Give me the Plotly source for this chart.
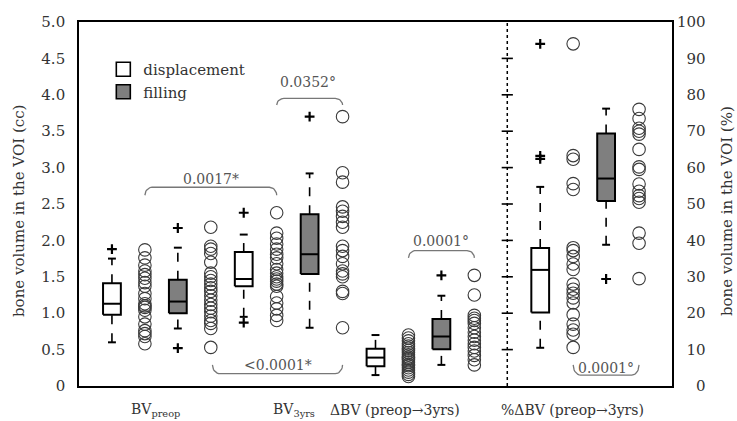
import numpy as np
import plotly.graph_objects as go

# ---------------- data ----------------
group_labels = ["BV<sub>preop</sub>", "BV<sub>3yrs</sub>", "ΔBV (preop→3yrs)", "%ΔBV (preop→3yrs)"]
group_label_x = [2.31, 6.53, 9.59, 14.97]

series_kind = ["displacement", "filling", "displacement", "filling",
               "displacement", "filling", "displacement", "filling"]
box_pos = [1, 3, 5, 7, 9, 11, 14, 16]
pts_pos = [2, 4, 6, 8, 10, 12, 15, 17]
series_axis = ["y", "y", "y", "y", "y", "y", "y2", "y2"]

box_lw = [0.60, 0.79, 0.95, 0.80, 0.15, 0.29, 10.5, 38.8]
box_q1 = [0.98, 1.00, 1.37, 1.54, 0.27, 0.505, 20.2, 50.8]
box_med = [1.13, 1.16, 1.47, 1.81, 0.39, 0.68, 31.9, 57.0]
box_q3 = [1.41, 1.46, 1.84, 2.36, 0.51, 0.92, 37.9, 69.4]
box_uw = [1.75, 1.90, 2.08, 2.92, 0.70, 1.24, 54.7, 76.2]
box_out = [[1.88], [2.17, 0.52], [2.38, 0.87], [3.70], [], [1.52], [94.0, 63.2, 62.4], [29.4]]

pts_bvpre_disp = [1.87, 1.76, 1.66, 1.58, 1.53, 1.48, 1.42, 1.37, 1.27, 1.20,
                  1.13, 1.10, 1.08, 1.04, 0.95, 0.85, 0.76, 0.72, 0.68, 0.58]
pts_bvpre_fill = [2.18, 1.92, 1.88, 1.82, 1.70, 1.55, 1.50, 1.45, 1.40, 1.35, 1.30,
                  1.24, 1.18, 1.12, 1.07, 1.02, 0.96, 0.90, 0.86, 0.79, 0.53]
pts_bv3_disp = [2.38, 2.10, 2.03, 1.95, 1.88, 1.81, 1.76, 1.68, 1.60, 1.55,
                1.50, 1.47, 1.44, 1.40, 1.37, 1.23, 1.14, 1.06, 0.97, 0.90]
pts_bv3_fill = [3.70, 2.93, 2.80, 2.46, 2.40, 2.33, 2.25, 2.18, 1.92, 1.86,
                1.78, 1.68, 1.58, 1.54, 1.50, 1.30, 1.27, 0.80]
pts_dbv_disp = [0.70, 0.66, 0.62, 0.58, 0.55, 0.52, 0.49, 0.46, 0.43, 0.40,
                0.38, 0.36, 0.33, 0.30, 0.28, 0.25, 0.22, 0.19, 0.16, 0.13]
pts_dbv_fill = [1.52, 1.25, 0.97, 0.93, 0.90, 0.86, 0.80, 0.74, 0.68, 0.63,
                0.58, 0.53, 0.48, 0.42, 0.36, 0.29]
pts_pdbv_disp = [94.0, 63.3, 62.3, 55.6, 54.0, 38.0, 37.2, 35.6, 33.5, 32.0,
                 28.0, 26.6, 25.5, 24.2, 22.8, 19.6, 17.0, 15.4, 14.2, 10.6]
pts_pdbv_fill = [76.0, 73.5, 70.8, 70.0, 69.2, 65.0, 60.2, 59.5, 55.5, 53.5,
                 52.3, 51.5, 50.5, 42.0, 39.2, 29.5]
pts_all = [pts_bvpre_disp, pts_bvpre_fill, pts_bv3_disp, pts_bv3_fill,
           pts_dbv_disp, pts_dbv_fill, pts_pdbv_disp, pts_pdbv_fill]

# significance brackets
br_text = ["0.0017*", "0.0352°", "<0.0001*", "0.0001°", "0.0001°"]
br_x0 = [2, 6, 4.05, 10, 15]
br_x1 = [6, 8, 8, 12, 17]
br_bar = [2.73, 3.95, 0.17, 1.86, 3.0]
br_end = [2.62, 3.86, 0.29, 1.76, 5.8]
br_text_x = [4.0, 6.95, 6.05, 11.0, 16.0]
br_text_y = [2.85, 4.17, 0.29, 1.99, 4.9]
br_axis = ["y", "y", "y", "y", "y2"]

y_ticks = [0, 0.5, 1.0, 1.5, 2.0, 2.5, 3.0, 3.5, 4.0, 4.5, 5.0]
y_ticktext = ["0", "0.5", "1.0", "1.5", "2.0", "2.5", "3.0", "3.5", "4.0", "4.5", "5.0"]
y2_ticks = [0, 10, 20, 30, 40, 50, 60, 70, 80, 90, 100]
divider_x = 13
divider_tick_vals = [10, 20, 30, 40, 50, 60, 70, 80, 90]

# ---------------- style ----------------
FONT = "DejaVu Serif"
TXT = "#333333"
fill_color = {"displacement": "white", "filling": "#7f7f7f"}
BW = 0.27   # half box width (x units)
CW = 0.12   # half cap width

fig = go.Figure()

for i in range(len(box_pos)):
    c = box_pos[i]
    ax = series_axis[i]
    fig.add_trace(go.Scatter(
        x=[c, c, None, c, c], y=[box_q3[i], box_uw[i], None, box_lw[i], box_q1[i]],
        mode="lines", line=dict(color="black", width=1.6, dash="dash"),
        yaxis=ax, showlegend=False, hoverinfo="skip"))
    fig.add_trace(go.Scatter(
        x=[c - CW, c + CW, None, c - CW, c + CW],
        y=[box_uw[i], box_uw[i], None, box_lw[i], box_lw[i]],
        mode="lines", line=dict(color="black", width=2),
        yaxis=ax, showlegend=False, hoverinfo="skip"))
    fig.add_trace(go.Scatter(
        x=[c - BW, c + BW, c + BW, c - BW, c - BW],
        y=[box_q1[i], box_q1[i], box_q3[i], box_q3[i], box_q1[i]],
        mode="lines", fill="toself", fillcolor=fill_color[series_kind[i]],
        line=dict(color="black", width=2),
        yaxis=ax, showlegend=False, hoverinfo="skip"))
    fig.add_trace(go.Scatter(
        x=[c - BW, c + BW], y=[box_med[i], box_med[i]],
        mode="lines", line=dict(color="black", width=2),
        yaxis=ax, showlegend=False, hoverinfo="skip"))
    if box_out[i]:
        fig.add_trace(go.Scatter(
            x=[c] * len(box_out[i]), y=box_out[i], mode="markers",
            marker=dict(symbol="cross-thin", size=7, line=dict(color="black", width=2.2)),
            yaxis=ax, showlegend=False, hoverinfo="skip"))
    fig.add_trace(go.Scatter(
        x=[pts_pos[i]] * len(pts_all[i]), y=pts_all[i], mode="markers",
        marker=dict(symbol="circle-open", size=12.5, color="#3a3a3a", line=dict(width=1.1)),
        yaxis=ax, showlegend=False, hoverinfo="skip"))

# dotted divider with ticks
fig.add_trace(go.Scatter(
    x=[divider_x, divider_x], y=[0, 100], mode="lines",
    line=dict(color="black", width=1.5, dash="dot"),
    yaxis="y2", showlegend=False, hoverinfo="skip"))
fig.add_trace(go.Scatter(
    x=[divider_x] * len(divider_tick_vals), y=divider_tick_vals, mode="markers",
    marker=dict(symbol="line-ew", size=8, line=dict(color="black", width=1.6)),
    yaxis="y2", showlegend=False, hoverinfo="skip"))

# brackets
t = np.linspace(0, np.pi / 2, 10)
R = 0.22
for k in range(len(br_text)):
    x0, x1, yb, ye = br_x0[k], br_x1[k], br_bar[k], br_end[k]
    lx = list(x0 + R * (1 - np.cos(t)))
    ly = list(ye + (yb - ye) * np.sin(t))
    rx = list(x1 - R * (1 - np.cos(t[::-1])))
    ry = list(ye + (yb - ye) * np.sin(t[::-1]))
    fig.add_trace(go.Scatter(
        x=lx + rx, y=ly + ry, mode="lines",
        line=dict(color="#777777", width=1.3),
        yaxis=br_axis[k], showlegend=False, hoverinfo="skip"))
    fig.add_annotation(
        x=br_text_x[k], y=br_text_y[k], xref="x", yref=br_axis[k],
        text=br_text[k], showarrow=False, xanchor="center", yanchor="middle",
        font=dict(family=FONT, size=14, color="#555555"))

# legend entries
for kind in ["displacement", "filling"]:
    fig.add_trace(go.Scatter(
        x=[None], y=[None], mode="markers", name=kind,
        marker=dict(symbol="square", size=14, color=fill_color[kind],
                    line=dict(color="black", width=1.6))))

# group labels
for lab, gx in zip(group_labels, group_label_x):
    fig.add_annotation(x=gx, y=-0.066, xref="x", yref="paper", text=lab,
                       showarrow=False, xanchor="center", yanchor="middle",
                       font=dict(family=FONT, size=14, color=TXT))

# axis titles
fig.add_annotation(x=-0.1, y=0.48, xref="paper", yref="paper",
                   text="bone volume in the VOI (cc)", textangle=-90, showarrow=False,
                   xanchor="center", yanchor="middle",
                   font=dict(family=FONT, size=15, color=TXT))
fig.add_annotation(x=1.094, y=0.48, xref="paper", yref="paper",
                   text="bone volume in the VOI (%)", textangle=-90, showarrow=False,
                   xanchor="center", yanchor="middle",
                   font=dict(family=FONT, size=15, color=TXT))

fig.update_layout(
    width=737, height=421,
    margin=dict(l=79, r=65, t=22, b=35, autoexpand=False),
    paper_bgcolor="white", plot_bgcolor="white",
    font=dict(family=FONT, size=15, color=TXT),
    showlegend=True,
    legend=dict(x=0.041, y=0.915, xanchor="left", yanchor="top",
                font=dict(family=FONT, size=15, color=TXT),
                bgcolor="rgba(0,0,0,0)", itemwidth=30, tracegroupgap=0),
    xaxis=dict(range=[0, 18], showgrid=False, zeroline=False, showticklabels=False,
               ticks="", showline=True, mirror=True, linecolor="black", linewidth=1.6),
    yaxis=dict(range=[0, 5], tickvals=y_ticks, ticktext=y_ticktext, showgrid=False,
               zeroline=False, ticks="", showline=True, mirror=True,
               linecolor="black", linewidth=1.6, ticklabelstandoff=9,
               tickfont=dict(family=FONT, size=15, color=TXT)),
    yaxis2=dict(range=[0, 100], tickvals=y2_ticks,
                ticktext=["\u2007" * (3 - len(str(v))) + str(v) for v in y2_ticks],
                overlaying="y", side="right", showgrid=False, zeroline=False,
                ticks="", showline=False, ticklabelstandoff=4,
                tickfont=dict(family=FONT, size=15, color=TXT)),
)

fig.write_html("out.html", config={"displayModeBar": False},
               post_script=["document.body.style.margin='0';"])
